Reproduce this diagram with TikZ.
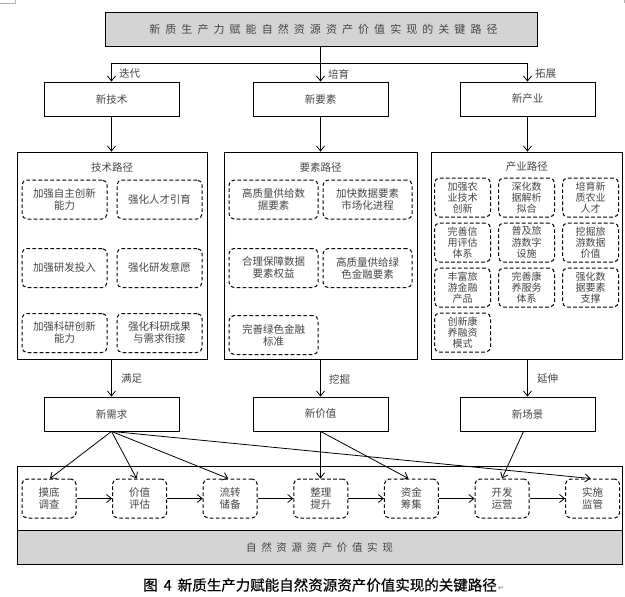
\documentclass[tikz,border=0pt]{standalone}
\usepackage{fontspec}
\newfontfamily\cjk{Noto Sans CJK SC}
\newfontfamily\cjkspaced[LetterSpace=46]{Noto Sans CJK SC}
\newfontfamily\cjkband[LetterSpace=44]{Noto Sans CJK SC}
\newfontfamily\cjkcap[FakeBold=0.35]{Noto Sans CJK SC}
\newfontfamily\dejavu{DejaVu Sans}
\usetikzlibrary{arrows.meta}
\definecolor{txt}{gray}{0.27}
\definecolor{boxgray}{gray}{0.83}
\begin{document}
\begin{tikzpicture}[x=1pt,y=-1pt,
  base/.style={draw=black, line width=0.8pt, inner sep=0pt, align=center, text=txt},
  bigbox/.style={base, minimum width=135pt, minimum height=34pt, font=\cjk\fontsize{10.5}{12}\selectfont},
  container/.style={draw=black, line width=0.8pt, inner sep=0pt},
  ctitle/.style={inner sep=0pt, text=txt, font=\cjk\fontsize{10.5}{12}\selectfont},
  dbox/.style={draw=black, dash pattern=on 3.6pt off 2.4pt, line width=1pt, rounded corners=5pt,
     inner sep=0pt, align=center, minimum height=39pt, text=txt, font=\cjk\fontsize{10.5}{12}\selectfont},
  dboxs/.style={dbox, minimum width=56pt, font=\cjk\fontsize{10}{11.3}\selectfont},
  stepbox/.style={dbox, minimum width=54pt, font=\cjk\fontsize{10.5}{12.5}\selectfont},
  lab/.style={inner sep=0pt, anchor=west, text=txt, font=\cjk\fontsize{10.5}{12}\selectfont},
  arr/.style={-{Straight Barb[length=5pt,width=8pt]}, line width=0.8pt},
  cornermark/.style={draw=gray!60, line width=0.6pt}]
\useasboundingbox (0,0) rectangle (625,597);
% corner marks
\draw[cornermark] (0,3.3) -- (15,3.3) -- (15,0);
\draw[cornermark] (624,0) -- (624,3.3);
% title
\node[base, fill=boxgray, minimum width=432pt, minimum height=34pt, font=\cjkspaced\fontsize{11}{12}\selectfont] (title) at (321,29)
  {新质生产力赋能自然资源资产价值实现的关键路径\hspace{-5pt}};
% level 1 boxes
\node[bigbox] (n1) at (111.5,99) {新技术};
\node[bigbox] (n2) at (320.5,99) {新要素};
\node[bigbox] (n3) at (527.5,99) {新产业};
\coordinate (j) at (320.5,63);
\draw[line width=0.8pt] (title.south -| j) -- (j);
\draw[arr] (j) -| (n1.north);
\draw[arr] (j) -- (n2.north);
\draw[arr] (j) -| (n3.north);
\node[lab] (l1) at (119,74) {迭代};
\node[lab] (l2) at (328,74) {培育};
\node[lab] (l3) at (535,74) {拓展};
% containers
\node[container, minimum width=190pt, minimum height=207pt] (c1) at (112,255.5) {};
\node[container, minimum width=193pt, minimum height=207pt] (c2) at (320.5,255.5) {};
\node[container, minimum width=191.5pt, minimum height=207pt] (c3) at (526.75,255.5) {};
\draw[arr] (n1.south) -- (n1.south |- c1.north);
\draw[arr] (n2.south) -- (n2.south |- c2.north);
\draw[arr] (n3.south) -- (n3.south |- c3.north);
\node[ctitle] (t1) at (112,168) {技术路径};
\node[ctitle] (t2) at (320.5,168) {要素路径};
\node[ctitle] (t3) at (526.75,167) {产业路径};
% left column
\node[dbox, minimum width=85pt] (a1) at (64.5,199.5) {加强自主创新\\能力};
\node[dbox, minimum width=85pt] (a2) at (159.5,199.5) {强化人才引育};
\node[dbox, minimum width=85pt] (a3) at (64.5,268) {加强研发投入};
\node[dbox, minimum width=85pt] (a4) at (159.5,268) {强化研发意愿};
\node[dbox, minimum width=85pt] (a5) at (64.5,333) {加强科研创新\\能力};
\node[dbox, minimum width=85pt] (a6) at (159.5,333) {强化科研成果\\与需求衔接};
% middle column
\node[dbox, minimum width=89pt] (b1) at (273.5,199.5) {高质量供给数\\据要素};
\node[dbox, minimum width=89pt] (b2) at (367.5,199.5) {加快数据要素\\市场化进程};
\node[dbox, minimum width=89pt] (b3) at (273.5,268) {合理保障数据\\要素权益};
\node[dbox, minimum width=89pt] (b4) at (367.5,268) {高质量供给绿\\色金融要素};
\node[dbox, minimum width=89pt] (b5) at (273.5,335) {完善绿色金融\\标准};
% right column
\node[dboxs] (r1) at (462.5,197.5) {加强农\\业技术\\创新};
\node[dboxs] (r2) at (526.5,197.5) {深化数\\据解析\\拟合};
\node[dboxs] (r3) at (590.5,197.5) {培育新\\质农业\\人才};
\node[dboxs] (r4) at (462.5,242.5) {完善信\\用评估\\体系};
\node[dboxs] (r5) at (526.5,242.5) {普及旅\\游数字\\设施};
\node[dboxs] (r6) at (590.5,242.5) {挖掘旅\\游数据\\价值};
\node[dboxs] (r7) at (462.5,287.5) {丰富旅\\游金融\\产品};
\node[dboxs] (r8) at (526.5,287.5) {完善康\\养服务\\体系};
\node[dboxs] (r9) at (590.5,287.5) {强化数\\据要素\\支撑};
\node[dboxs] (r10) at (462.5,332.5) {创新康\\养融资\\模式};
% level 2 boxes
\node[bigbox] (n4) at (111.5,414) {新需求};
\node[bigbox] (n5) at (320.5,414) {新价值};
\node[bigbox] (n6) at (527.5,414) {新场景};
\draw[arr] (c1.south -| n4) -- (n4.north);
\draw[arr] (c2.south -| n5) -- (n5.north);
\draw[arr] (c3.south -| n6) -- (n6.north);
\node[lab] (l4) at (121,379) {满足};
\node[lab] (l5) at (329,379) {挖掘};
\node[lab] (l6) at (537,379) {延伸};
% bottom frame
\node[container, minimum width=605pt, minimum height=98pt] (bottom) at (319.5,515) {};
\node[container, fill=boxgray, minimum width=605pt, minimum height=33.5pt, text=txt,
  font=\cjkband\fontsize{10.5}{12}\selectfont] (band) at (319.5,547.5) {自然资源资产价值实现\hspace{-4.6pt}};
% steps
\node[stepbox] (s1) at (49,498.5) {摸底\\调查};
\node[stepbox] (s2) at (139.6,498.5) {价值\\评估};
\node[stepbox] (s3) at (230.2,498.5) {流转\\储备};
\node[stepbox] (s4) at (320.8,498.5) {整理\\提升};
\node[stepbox] (s5) at (411.4,498.5) {资金\\筹集};
\node[stepbox] (s6) at (502,498.5) {开发\\运营};
\node[stepbox] (s7) at (592.6,498.5) {实施\\监管};
\foreach \a/\b in {s1/s2,s2/s3,s3/s4,s4/s5,s5/s6,s6/s7}
  \draw[arr] (\a.east) -- (\b.west);
% links to steps
\draw[arr] (n4.south) -- ([xshift=1pt]s1.north);
\draw[arr] (n4.south) -- ([xshift=-3pt]s2.north);
\draw[arr] (n4.south) -- ([xshift=-2pt]s3.north);
\draw[arr] (n4.south) -- ([xshift=-2pt]s7.north);
\draw[arr] (n5.south) -- (n5.south |- s4.north);
\draw[arr] (n5.south) -- ([xshift=-3pt]s5.north);
\draw[arr] ([xshift=-4pt]n6.south) -- (s6.north);
% caption
\node[inner sep=0pt, text=black, font=\cjkcap\fontsize{14.5}{16}\selectfont] (cap) at (320,585)
  {图\hspace{6pt}4\hspace{6pt}新质生产力赋能自然资源资产价值实现的关键路径};
\node[inner sep=0pt, anchor=west, text=gray, font=\dejavu\fontsize{7}{8}\selectfont] (ret) at ([xshift=1pt,yshift=-3pt]cap.east) {↵};
\end{tikzpicture}
\end{document}
